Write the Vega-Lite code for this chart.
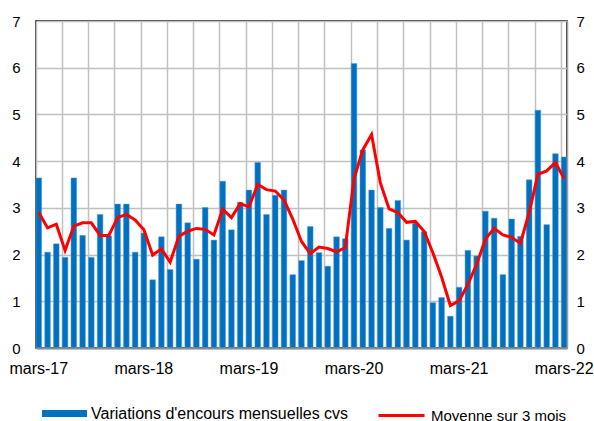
{
  "$schema": "https://vega.github.io/schema/vega-lite/v6.json",
  "autosize": {"type": "none"},
  "width": 531,
  "height": 327,
  "padding": {"left": 36, "top": 21, "right": 27, "bottom": 73},
  "config": {
    "font": "Liberation Sans",
    "view": {"stroke": "#000000", "strokeWidth": 1.5},
    "axis": {"labelFont": "Liberation Sans", "labelFontSize": 15, "labelColor": "#000000", "title": null}
  },
  "data": {
    "values": [
      {"mois": "mars-17", "variation": 3.64, "moyenne": 2.90},
      {"mois": "avr.-17", "variation": 2.05, "moyenne": 2.57},
      {"mois": "mai-17", "variation": 2.23, "moyenne": 2.65},
      {"mois": "juin-17", "variation": 1.94, "moyenne": 2.09},
      {"mois": "juil.-17", "variation": 3.64, "moyenne": 2.61},
      {"mois": "août-17", "variation": 2.41, "moyenne": 2.68},
      {"mois": "sept.-17", "variation": 1.94, "moyenne": 2.68},
      {"mois": "oct.-17", "variation": 2.86, "moyenne": 2.41},
      {"mois": "nov.-17", "variation": 2.40, "moyenne": 2.41},
      {"mois": "déc.-17", "variation": 3.08, "moyenne": 2.79},
      {"mois": "janv.-18", "variation": 3.08, "moyenne": 2.86},
      {"mois": "févr.-18", "variation": 2.05, "moyenne": 2.74},
      {"mois": "mars-18", "variation": 2.46, "moyenne": 2.53},
      {"mois": "avr.-18", "variation": 1.46, "moyenne": 1.99},
      {"mois": "mai-18", "variation": 2.38, "moyenne": 2.12},
      {"mois": "juin-18", "variation": 1.68, "moyenne": 1.84},
      {"mois": "juil.-18", "variation": 3.08, "moyenne": 2.39},
      {"mois": "août-18", "variation": 2.68, "moyenne": 2.50},
      {"mois": "sept.-18", "variation": 1.90, "moyenne": 2.56},
      {"mois": "oct.-18", "variation": 3.01, "moyenne": 2.54},
      {"mois": "nov.-18", "variation": 2.31, "moyenne": 2.42},
      {"mois": "déc.-18", "variation": 3.57, "moyenne": 2.97},
      {"mois": "janv.-19", "variation": 2.53, "moyenne": 2.79},
      {"mois": "févr.-19", "variation": 3.12, "moyenne": 3.09},
      {"mois": "mars-19", "variation": 3.38, "moyenne": 3.02},
      {"mois": "avr.-19", "variation": 3.97, "moyenne": 3.50},
      {"mois": "mai-19", "variation": 2.86, "moyenne": 3.39},
      {"mois": "juin-19", "variation": 3.27, "moyenne": 3.36},
      {"mois": "juil.-19", "variation": 3.38, "moyenne": 3.17},
      {"mois": "août-19", "variation": 1.57, "moyenne": 2.76},
      {"mois": "sept.-19", "variation": 1.87, "moyenne": 2.28},
      {"mois": "oct.-19", "variation": 2.60, "moyenne": 2.02},
      {"mois": "nov.-19", "variation": 2.04, "moyenne": 2.16},
      {"mois": "déc.-19", "variation": 1.75, "moyenne": 2.13},
      {"mois": "janv.-20", "variation": 2.38, "moyenne": 2.06},
      {"mois": "févr.-20", "variation": 2.34, "moyenne": 2.15},
      {"mois": "mars-20", "variation": 6.09, "moyenne": 3.62},
      {"mois": "avr.-20", "variation": 4.24, "moyenne": 4.24},
      {"mois": "mai-20", "variation": 3.38, "moyenne": 4.57},
      {"mois": "juin-20", "variation": 3.01, "moyenne": 3.54},
      {"mois": "juil.-20", "variation": 2.56, "moyenne": 2.98},
      {"mois": "août-20", "variation": 3.16, "moyenne": 2.90},
      {"mois": "sept.-20", "variation": 2.31, "moyenne": 2.69},
      {"mois": "oct.-20", "variation": 2.67, "moyenne": 2.71},
      {"mois": "nov.-20", "variation": 2.49, "moyenne": 2.50},
      {"mois": "déc.-20", "variation": 0.97, "moyenne": 2.04},
      {"mois": "janv.-21", "variation": 1.08, "moyenne": 1.52},
      {"mois": "févr.-21", "variation": 0.68, "moyenne": 0.91},
      {"mois": "mars-21", "variation": 1.30, "moyenne": 1.01},
      {"mois": "avr.-21", "variation": 2.09, "moyenne": 1.36},
      {"mois": "mai-21", "variation": 1.97, "moyenne": 1.79},
      {"mois": "juin-21", "variation": 2.93, "moyenne": 2.33},
      {"mois": "juil.-21", "variation": 2.78, "moyenne": 2.56},
      {"mois": "août-21", "variation": 1.57, "moyenne": 2.42},
      {"mois": "sept.-21", "variation": 2.76, "moyenne": 2.37},
      {"mois": "oct.-21", "variation": 2.39, "moyenne": 2.24},
      {"mois": "nov.-21", "variation": 3.60, "moyenne": 2.90},
      {"mois": "déc.-21", "variation": 5.09, "moyenne": 3.72},
      {"mois": "janv.-22", "variation": 2.64, "moyenne": 3.79},
      {"mois": "févr.-22", "variation": 4.16, "moyenne": 3.97},
      {"mois": "mars-22", "variation": 4.09, "moyenne": 3.62}
    ]
  },
  "resolve": {"axis": {"x": "independent", "y": "independent"}},
  "layer": [
    {
      "mark": {"type": "bar", "stroke": "#4F9BD9", "strokeWidth": 0.5},
      "encoding": {
        "x": {
          "field": "mois", "type": "ordinal", "sort": null,
          "scale": {"paddingInner": 0.36, "paddingOuter": 0},
          "axis": {
            "orient": "bottom",
            "bandPosition": 0, "labels": false, "ticks": false, "domain": false,
            "grid": true, "gridColor": "#C0C0C0", "gridWidth": 1.5,
            "values": ["mars-17","juin-17","sept.-17","déc.-17","mars-18","juin-18","sept.-18","déc.-18","mars-19","juin-19","sept.-19","déc.-19","mars-20","juin-20","sept.-20","déc.-20","mars-21","juin-21","sept.-21","déc.-21","mars-22"]
          }
        },
        "y": {
          "field": "variation", "type": "quantitative",
          "scale": {"domain": [0, 7], "nice": false},
          "axis": {
            "orient": "left",
            "values": [0,1,2,3,4,5,6,7], "format": "d", "ticks": false, "domain": false,
            "grid": true, "gridColor": "#C0C0C0", "gridWidth": 1.5, "labelPadding": 16
          }
        },
        "fill": {
          "datum": "Variations d'encours mensuelles cvs",
          "scale": {"range": ["#0070C0"]},
          "legend": {
            "orient": "none", "legendX": 6, "legendY": 370, "title": null, "padding": 0,
            "symbolType": "M-1,-0.155H1V0.155H-1Z", "symbolSize": 2025, "symbolStrokeWidth": 0,
            "labelFont": "Liberation Sans", "labelFontSize": 16, "labelColor": "#000000", "labelOffset": 4, "labelLimit": 400
          }
        }
      }
    },
    {
      "mark": {"type": "line", "strokeWidth": 3},
      "encoding": {
        "x": {
          "field": "mois", "type": "ordinal", "sort": null,
          "axis": {
            "orient": "bottom",
            "values": ["mars-17","mars-18","mars-19","mars-20","mars-21","mars-22"],
            "ticks": false, "grid": false, "domainColor": "#8C8C8C", "domainWidth": 2,
            "labelPadding": 12, "labelAngle": 0, "labelFontSize": 16, "zindex": 1
          }
        },
        "y": {
          "field": "moyenne", "type": "quantitative",
          "scale": {"domain": [0, 7], "nice": false},
          "axis": {
            "orient": "right", "values": [0,1,2,3,4,5,6,7], "format": "d", "ticks": false,
            "grid": false, "domainColor": "#A0A0A0", "domainWidth": 1.5, "labelPadding": 9, "zindex": 1
          }
        },
        "stroke": {
          "datum": "Moyenne sur 3 mois",
          "scale": {"range": ["#FF0000"]},
          "legend": {
            "orient": "none", "legendX": 341, "legendY": 370, "title": null, "padding": 0,
            "symbolType": "stroke", "symbolSize": 2116, "symbolStrokeWidth": 3,
            "labelFont": "Liberation Sans", "labelFontSize": 15, "labelColor": "#000000", "labelOffset": 5, "labelLimit": 400
          }
        }
      }
    }
  ]
}
